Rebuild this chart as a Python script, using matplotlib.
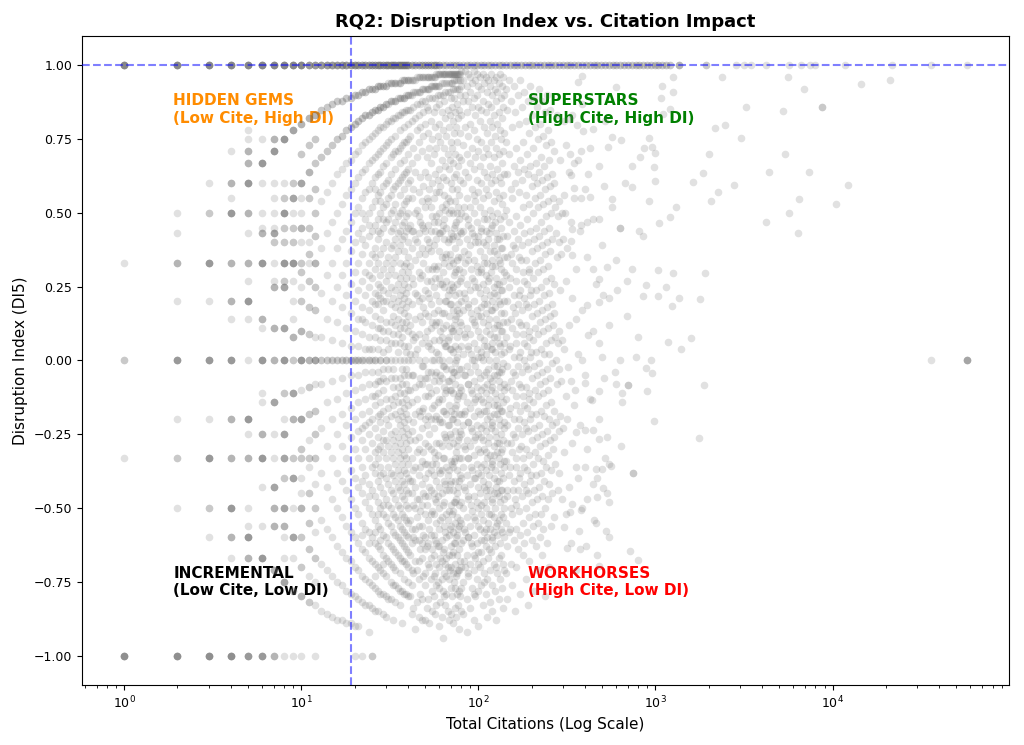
import numpy as np
import matplotlib.pyplot as plt

# papers with DI = 1 (top row): citations and number of papers on that spot
top_cites = [1, 2, 3, 4, 5, 6, 7, 8, 9, 10, 11, 12, 13, 14, 15, 16, 17, 18, 19, 20,
             21, 22, 23, 24, 25, 26, 27, 28, 29, 30, 31, 32, 33, 34, 35, 36, 37, 38, 39, 40,
             42, 44, 46, 48, 50, 52, 54, 56, 58, 60, 63, 66, 69, 72, 75, 78, 82, 86, 90, 94,
             98, 103, 108, 113, 118, 124, 130, 136, 143, 150, 158, 166, 174, 183, 192, 202,
             212, 223, 234, 246, 258, 271, 285, 300, 315, 331, 348, 366, 385, 405, 425, 447,
             470, 494, 519, 545, 573, 602, 633, 665, 699, 735, 772, 811, 852, 896, 941, 989,
             1040, 1090, 1150, 1210, 1350, 1920, 2830, 3170, 3450, 4200, 5640, 6600, 7500,
             8000, 11800, 21500, 35700, 57000]
top_counts = [7, 7, 7, 7, 7, 7, 7, 7, 7, 7, 5, 5, 5, 5, 5, 5, 5, 5, 5, 5,
              4, 4, 4, 4, 4, 4, 4, 4, 4, 4, 4, 4, 4, 4, 4, 4, 4, 4, 4, 4,
              3, 3, 3, 3, 3, 3, 3, 3, 3, 3, 2, 2, 2, 2, 2, 2, 2, 2, 2, 2,
              2, 2, 2, 2, 2, 2, 2, 2, 2, 2, 2, 2, 2, 2, 2, 2,
              2, 2, 2, 2, 2, 2, 2, 2, 2, 2, 2, 2, 2, 2, 2, 2,
              2, 2, 2, 2, 2, 2, 2, 2, 2, 2, 2, 2, 2, 2, 2, 2,
              2, 2, 2, 2, 3, 2, 1, 1, 1, 1, 1, 1, 1,
              1, 1, 1, 1, 1]

# papers with DI = -1
bottom_cites = [1, 2, 3, 4, 5, 6, 7, 8, 9, 10, 12, 20, 22, 25]
bottom_counts = [6, 6, 6, 6, 5, 5, 3, 1, 1, 1, 1, 1, 1, 2]

# DI of the papers in each citation column (one entry per paper)
columns = {
    1: [0.33, 0, 0, -0.33],
    2: [0.5, 0.43, 0.33, 0.33, 0.33, 0.2, 0, 0, 0, 0, 0, -0.2, -0.33, -0.33, -0.5],
    3: [0.6, 0.5, 0.5, 0.33, 0.33, 0.33, 0.33, 0.33, 0.2, 0, 0, 0, 0, 0, -0.2, -0.33, -0.33,
        -0.33, -0.33, -0.33, -0.5, -0.5, -0.6],
    4: [0.71, 0.6, 0.6, 0.6, 0.55, 0.5, 0.5, 0.5, 0.5, 0.5, 0.33, 0.33, 0.33, 0.2, 0.2, 0.2,
        0.14, 0, 0, 0, 0, 0, -0.2, -0.2, -0.2, -0.33, -0.33, -0.33, -0.5, -0.5, -0.5, -0.5,
        -0.5, -0.6, -0.6, -0.6, -0.67],
    5: [0.78, 0.75, 0.71, 0.71, 0.71, 0.67, 0.67, 0.67, 0.6, 0.6, 0.6, 0.6, 0.6, 0.5, 0.5,
        0.5, 0.43, 0.33, 0.33, 0.33, 0.27, 0.2, 0.2, 0.2, 0.2, 0.2, 0.14, 0, -0.2, -0.2, -0.2,
        -0.2, -0.2, -0.25, -0.33, -0.33, -0.33, -0.5, -0.56, -0.6, -0.6, -0.6, -0.6, -0.6,
        -0.67, -0.67, -0.67],
    6: [0.75, 0.67, 0.67, 0.67, 0.67, 0.67, 0.6, 0.5, 0.45, 0.43, 0.43, 0.43, 0.33, 0.33,
        0.33, 0.33, 0.33, 0.14, 0.14, 0.14, 0.11, 0, 0, 0, 0, 0, -0.11, -0.14, -0.25, -0.25,
        -0.25, -0.33, -0.33, -0.33, -0.33, -0.33, -0.43, -0.56, -0.67, -0.67, -0.67, -0.67,
        -0.67],
    7: [0.75, 0.75, 0.75, 0.71, 0.71, 0.71, 0.71, 0.71, 0.6, 0.55, 0.5, 0.45, 0.43, 0.43,
        0.43, 0.43, 0.4, 0.4, 0.33, 0.27, 0.25, 0.25, 0.25, 0.11, 0.11, 0.11, 0, 0, 0, -0.14,
        -0.14, -0.14, -0.14, -0.25, -0.33, -0.43, -0.43, -0.43, -0.43, -0.5, -0.5, -0.5,
        -0.56, -0.56, -0.56, -0.71, -0.71, -0.71],
    8: [0.75, 0.75, 0.75, 0.75, 0.75, 0.6, 0.55, 0.55, 0.5, 0.5, 0.5, 0.5, 0.5, 0.45, 0.45,
        0.4, 0.4, 0.33, 0.33, 0.33, 0.33, 0.33, 0.27, 0.27, 0.25, 0.25, 0.25, 0.25, 0.11,
        0.11, 0.11, 0.11, 0, 0, 0, 0, 0, -0.11, -0.11, -0.2, -0.25, -0.25, -0.25, -0.25,
        -0.33, -0.33, -0.33, -0.33, -0.4, -0.4, -0.5, -0.5, -0.5, -0.5, -0.56, -0.56, -0.56,
        -0.6, -0.67, -0.75, -0.75, -0.75, -0.75],
    9: [0.78, 0.78, 0.78, 0.78, 0.6, 0.6, 0.55, 0.55, 0.55, 0.55, 0.5, 0.45, 0.45, 0.4, 0.4,
        0.33, 0.33, 0.33, 0.33, 0.33, 0.27, 0.2, 0.14, 0.08, 0.08, 0.08, 0, 0, -0.11, -0.11,
        -0.11, -0.11, -0.2, -0.2, -0.2, -0.33, -0.33, -0.4, -0.4, -0.4, -0.4, -0.5, -0.6,
        -0.6, -0.6, -0.6, -0.67, -0.78, -0.78],
    10: [0.8, 0.8, 0.8, 0.7, 0.7, 0.6, 0.6, 0.6, 0.6, 0.55, 0.5, 0.45, 0.45, 0.45, 0.4, 0.33,
         0.33, 0.3, 0.3, 0.25, 0.2, 0.2, 0.1, 0.1, 0.1, 0, 0, 0, 0, 0, -0.1, -0.2, -0.2, -0.2,
         -0.2, -0.3, -0.3, -0.33, -0.33, -0.4, -0.45, -0.5, -0.5, -0.5, -0.6, -0.6, -0.7,
         -0.7, -0.8, -0.8, -0.8],
    11: [0.82, 0.82, 0.82, 0.73, 0.73, 0.64, 0.64, 0.64, 0.55, 0.55, 0.45, 0.45, 0.4, 0.36,
         0.36, 0.33, 0.27, 0.27, 0.18, 0.18, 0.09, 0.09, 0, 0, 0, -0.09, -0.09, -0.18, -0.18,
         -0.27, -0.33, -0.33, -0.36, -0.45, -0.45, -0.55, -0.55, -0.64, -0.64, -0.73, -0.82,
         -0.82],
    12: [0.83, 0.83, 0.83, 0.75, 0.75, 0.67, 0.67, 0.58, 0.58, 0.5, 0.5, 0.42, 0.42, 0.33,
         0.33, 0.33, 0.25, 0.25, 0.17, 0.17, 0.08, 0, 0, 0, 0, -0.08, -0.17, -0.17, -0.25,
         -0.25, -0.33, -0.33, -0.42, -0.5, -0.5, -0.58, -0.67, -0.67, -0.75, -0.83],
    13: [0.85, 0.85, 0.69, 0.69, 0.54, 0.38, 0.23, 0.08, 0, 0, -0.08, -0.23, -0.38, -0.54,
         -0.69, -0.85],
    14: [0.86, 0.86, 0.71, 0.71, 0.57, 0.43, 0.29, 0.14, 0, 0, -0.14, -0.29, -0.43, -0.57,
         -0.71, -0.86],
    15: [0.87, 0.87, 0.73, 0.73, 0.6, 0.47, 0.33, 0.2, 0.07, 0, 0, -0.07, -0.2, -0.33, -0.47,
         -0.6, -0.73, -0.87],
    16: [0.88, 0.88, 0.75, 0.75, 0.63, 0.5, 0.38, 0.25, 0.13, 0, 0, -0.13, -0.25, -0.38,
         -0.5, -0.63, -0.75, -0.88],
    17: [0.88, 0.88, 0.76, 0.76, 0.65, 0.53, 0.41, 0.29, 0.18, 0.06, 0, 0, -0.06, -0.18,
         -0.29, -0.41, -0.53, -0.65, -0.76, -0.88],
    18: [0.89, 0.89, 0.78, 0.78, 0.67, 0.56, 0.44, 0.33, 0.22, 0.11, 0, 0, -0.11, -0.22,
         -0.33, -0.44, -0.56, -0.67, -0.78, -0.89],
    19: [0.89, 0.89, 0.79, 0.79, 0.68, 0.58, 0.47, 0.37, 0.26, 0.16, 0.05, 0, 0, -0.05,
         -0.16, -0.26, -0.37, -0.47, -0.58, -0.68, -0.79, -0.89],
    20: [0.9, 0.9, 0.8, 0.8, 0.7, 0.6, 0.5, 0.4, 0.3, 0.2, 0.1, 0, 0, -0.1, -0.2, -0.3, -0.4,
         -0.5, -0.6, -0.7, -0.8, -0.9],
    21: [0.9, 0.9, 0.81, 0.81, 0.71, 0.62, 0.52, 0.43, 0.33, 0.24, 0.14, 0.05, 0, 0, -0.05,
         -0.14, -0.24, -0.33, -0.43, -0.52, -0.62, -0.71, -0.81, -0.9],
    22: [0.91, 0.91, 0.82, 0.82, 0.73, 0.64, 0.55, 0.45, 0.36, 0.27, 0.18, 0.09, 0, 0,
         -0.09, -0.18, -0.27, -0.36, -0.45, -0.55, -0.64, -0.73, -0.82],
    23: [0.91, 0.91, 0.83, 0.83, 0.74, 0.65, 0.57, 0.48, 0.39, 0.3, 0.22, 0.13, 0.04, 0,
         -0.04, -0.13, -0.22, -0.3, -0.39, -0.48, -0.57, -0.65, -0.74, -0.83],
    24: [0.92, 0.92, 0.83, 0.83, 0.75, 0.67, 0.58, 0.5, 0.42, 0.33, 0.25, 0.17, 0.08, 0, 0,
         -0.08, -0.17, -0.25, -0.33, -0.42, -0.5, -0.58, -0.67, -0.75, -0.83, -0.92],
    25: [0.92, 0.92, 0.84, 0.84, 0.76, 0.68, 0.6, 0.52, 0.44, 0.36, 0.28, 0.2, 0.12, 0.04, 0,
         -0.04, -0.12, -0.2, -0.28, -0.36, -0.44, -0.52, -0.6, -0.68, -0.76, -0.84],
    26: [0.92, 0.92, 0.85, 0.85, 0.77, 0.69, 0.62, 0.54, 0.46, 0.38, 0.31, 0.23, 0.15, 0.08,
         0, 0, -0.08, -0.15, -0.23, -0.31, -0.38, -0.46, -0.54, -0.62, -0.69, -0.77, -0.85],
    27: [0.93, 0.93, 0.85, 0.85, 0.78, 0.7, 0.63, 0.56, 0.48, 0.41, 0.33, 0.26, 0.19, 0.11,
         0.04, -0.04, -0.11, -0.19, -0.26, -0.33, -0.41, -0.48, -0.56, -0.63, -0.7, -0.78,
         -0.85],
    28: [0.93, 0.93, 0.86, 0.86, 0.79, 0.71, 0.64, 0.57, 0.5, 0.43, 0.36, 0.29, 0.21, 0.14,
         0.07, 0, 0, -0.07, -0.14, -0.21, -0.29, -0.36, -0.43, -0.5, -0.57, -0.64, -0.71,
         -0.79],
    29: [0.93, 0.93, 0.86, 0.86, 0.79, 0.72, 0.66, 0.59, 0.52, 0.45, 0.38, 0.31, 0.24, 0.17,
         0.1, 0.03, -0.03, -0.1, -0.17, -0.24, -0.31, -0.38, -0.45, -0.52, -0.59, -0.66,
         -0.72, -0.79, -0.86],
    30: [0.93, 0.93, 0.87, 0.87, 0.8, 0.73, 0.67, 0.6, 0.53, 0.47, 0.4, 0.33, 0.27, 0.2,
         0.13, 0.07, 0, 0, -0.07, -0.13, -0.2, -0.27, -0.33, -0.4, -0.47, -0.53, -0.6, -0.67,
         -0.73, -0.8, -0.87],
    31: [0.94, 0.87, 0.81, 0.74, 0.61, 0.48, 0.35, 0.23, 0.1, -0.03, -0.16, -0.29, -0.42,
         -0.55, -0.68, -0.81],
    32: [0.94, 0.94, 0.88, 0.88, 0.81, 0.75, 0.69, 0.63, 0.56, 0.5, 0.44, 0.38, 0.31, 0.25,
         0.19, 0.13, 0.06, 0, -0.06, -0.13, -0.19, -0.25, -0.31, -0.38, -0.44, -0.5, -0.56,
         -0.63, -0.69, -0.75, -0.81],
    33: [0.94, 0.88, 0.82, 0.7, 0.58, 0.45, 0.33, 0.21, 0.09, -0.03, -0.15, -0.27, -0.39,
         -0.52, -0.64, -0.76, -0.88],
    34: [0.94, 0.94, 0.88, 0.88, 0.82, 0.76, 0.71, 0.65, 0.59, 0.53, 0.47, 0.41, 0.35, 0.29,
         0.24, 0.18, 0.12, 0.06, 0, -0.06, -0.12, -0.18, -0.24, -0.29, -0.35, -0.41, -0.47,
         -0.53, -0.59, -0.65, -0.71, -0.76, -0.82],
    35: [0.94, 0.89, 0.83, 0.71, 0.6, 0.49, 0.37, 0.26, 0.14, 0.03, -0.09, -0.2, -0.31,
         -0.43, -0.54, -0.66, -0.77],
    36: [0.94, 0.94, 0.89, 0.89, 0.83, 0.78, 0.72, 0.67, 0.61, 0.56, 0.5, 0.44, 0.39, 0.33,
         0.28, 0.22, 0.17, 0.11, 0.06, 0, -0.06, -0.11, -0.17, -0.22, -0.28, -0.33, -0.39,
         -0.44, -0.5, -0.56, -0.61, -0.67, -0.72, -0.78, -0.83],
    37: [0.95, 0.89, 0.84, 0.73, 0.62, 0.51, 0.41, 0.3, 0.19, 0.08, -0.03, -0.14, -0.24,
         -0.35, -0.46, -0.57, -0.68, -0.78, -0.89],
    38: [0.95, 0.95, 0.89, 0.89, 0.84, 0.79, 0.74, 0.68, 0.63, 0.58, 0.53, 0.47, 0.42, 0.37,
         0.32, 0.26, 0.21, 0.16, 0.11, 0.05, 0, -0.05, -0.11, -0.16, -0.21, -0.26, -0.32,
         -0.37, -0.42, -0.47, -0.53, -0.58, -0.63, -0.68, -0.74, -0.79],
    39: [0.95, 0.9, 0.85, 0.74, 0.64, 0.54, 0.44, 0.33, 0.23, 0.13, 0.03, -0.08, -0.18,
         -0.28, -0.38, -0.49, -0.59, -0.69, -0.79],
    40: [0.95, 0.95, 0.9, 0.9, 0.85, 0.8, 0.75, 0.7, 0.65, 0.6, 0.55, 0.5, 0.45, 0.4, 0.35,
         0.3, 0.25, 0.2, 0.15, 0.1, 0.05, 0, -0.05, -0.1, -0.15, -0.2, -0.25, -0.3, -0.35,
         -0.4, -0.45, -0.5, -0.55, -0.6, -0.65, -0.7, -0.75, -0.8],
    41: [0.95, 0.9, 0.85, 0.76, 0.61, 0.46, 0.32, 0.12, 0.02, -0.1, -0.27, -0.41, -0.54, -0.66, -0.8],
    42: [0.95, 0.9, 0.81, 0.67, 0.55, 0.38, 0.19, 0, -0.14, -0.33, -0.45, -0.62, -0.76, -0.86],
    43: [0.95, 0.91, 0.86, 0.72, 0.58, 0.44, 0.26, 0.07, -0.05, -0.21, -0.37, -0.49, -0.6, -0.72, -0.84],
    44: [0.95, 0.91, 0.82, 0.64, 0.5, 0.34, 0.14, 0.02, -0.09, -0.27, -0.43, -0.57, -0.68, -0.91],
    45: [0.96, 0.91, 0.87, 0.78, 0.69, 0.51, 0.4, 0.22, 0.04, -0.13, -0.31, -0.47, -0.53, -0.71, -0.82],
    46: [0.96, 0.91, 0.83, 0.74, 0.57, 0.43, 0.3, 0.09, 0, -0.17, -0.26, -0.39, -0.61, -0.74, -0.87],
    47: [0.96, 0.91, 0.87, 0.79, 0.62, 0.47, 0.28, 0.15, -0.06, -0.19, -0.36, -0.51, -0.64, -0.79],
    48: [0.96, 0.92, 0.88, 0.71, 0.54, 0.38, 0.21, 0.06, -0.08, -0.23, -0.42, -0.56, -0.67, -0.81, -0.88],
    49: [0.96, 0.92, 0.84, 0.76, 0.59, 0.45, 0.33, 0.18, -0.02, -0.16, -0.31, -0.45, -0.59, -0.73],
    50: [0.96, 0.92, 0.88, 0.8, 0.64, 0.52, 0.36, 0.24, 0.08, 0, -0.12, -0.28, -0.4, -0.52, -0.64, -0.76, -0.88],
    51: [0.96, 0.92, 0.86, 0.69, 0.55, 0.41, 0.27, 0.1, -0.06, -0.22, -0.35, -0.49, -0.63, -0.84],
    52: [0.96, 0.92, 0.85, 0.77, 0.62, 0.46, 0.31, 0.15, -0.04, -0.19, -0.38, -0.54, -0.69, -0.81],
    53: [0.96, 0.92, 0.89, 0.72, 0.58, 0.4, 0.21, 0.06, -0.09, -0.25, -0.43, -0.57, -0.7, -0.89],
    54: [0.96, 0.93, 0.81, 0.67, 0.52, 0.37, 0.19, 0.04, -0.11, -0.3, -0.44, -0.59, -0.74],
    55: [0.96, 0.93, 0.89, 0.75, 0.6, 0.49, 0.31, 0.13, 0, -0.16, -0.35, -0.51, -0.64, -0.78, -0.85],
    56: [0.96, 0.93, 0.84, 0.7, 0.55, 0.39, 0.25, 0.07, -0.07, -0.23, -0.39, -0.52, -0.66, -0.8],
    57: [0.96, 0.93, 0.89, 0.79, 0.63, 0.44, 0.28, 0.12, -0.05, -0.2, -0.33, -0.47, -0.61, -0.72, -0.86],
    58: [0.97, 0.93, 0.86, 0.72, 0.57, 0.41, 0.22, 0.03, -0.1, -0.28, -0.41, -0.55, -0.69, -0.83],
    59: [0.97, 0.93, 0.9, 0.76, 0.61, 0.47, 0.32, 0.17, 0.02, -0.14, -0.32, -0.46, -0.63, -0.75],
    60: [0.97, 0.93, 0.87, 0.8, 0.65, 0.5, 0.37, 0.2, 0.07, -0.07, -0.2, -0.37, -0.5, -0.63, -0.77, -0.9],
    61: [0.97, 0.9, 0.74, 0.59, 0.43, 0.26, 0.1, -0.05, -0.21, -0.38, -0.54, -0.67, -0.82],
    62: [0.97, 0.94, 0.84, 0.68, 0.52, 0.35, 0.16, 0, -0.13, -0.29, -0.45, -0.61, -0.74, -0.87],
    63: [0.97, 0.9, 0.78, 0.62, 0.46, 0.3, 0.11, -0.02, -0.17, -0.33, -0.49, -0.65, -0.78, -0.94],
    64: [0.97, 0.94, 0.88, 0.72, 0.56, 0.41, 0.25, 0.06, -0.09, -0.25, -0.41, -0.56, -0.72],
    65: [0.97, 0.91, 0.82, 0.66, 0.51, 0.35, 0.2, 0.05, -0.11, -0.26, -0.42, -0.58, -0.69, -0.83],
    66: [0.97, 0.94, 0.76, 0.61, 0.45, 0.27, 0.12, -0.03, -0.18, -0.36, -0.52, -0.67, -0.79],
    67: [0.97, 0.91, 0.85, 0.7, 0.55, 0.4, 0.22, 0.07, -0.07, -0.22, -0.39, -0.54, -0.7, -0.85],
    68: [0.97, 0.94, 0.79, 0.65, 0.5, 0.32, 0.15, 0, -0.15, -0.29, -0.44, -0.59, -0.74, -0.88],
    69: [0.97, 0.91, 0.83, 0.68, 0.54, 0.36, 0.19, 0.04, -0.1, -0.25, -0.42, -0.57, -0.71],
    70: [0.97, 0.94, 0.89, 0.74, 0.6, 0.43, 0.26, 0.11, -0.03, -0.17, -0.34, -0.49, -0.63, -0.77, -0.86],
    71: [0.97, 0.94, 0.86, 0.72, 0.58, 0.41, 0.24, 0.1, -0.06, -0.2, -0.35, -0.52, -0.66, -0.8],
    72: [0.97, 0.92, 0.81, 0.67, 0.5, 0.33, 0.17, 0.03, -0.11, -0.28, -0.44, -0.58, -0.72, -0.89],
    73: [0.97, 0.95, 0.89, 0.77, 0.62, 0.45, 0.29, 0.12, -0.04, -0.18, -0.34, -0.48, -0.62, -0.75],
    74: [0.97, 0.92, 0.84, 0.7, 0.54, 0.38, 0.22, 0.05, -0.08, -0.24, -0.41, -0.55, -0.69, -0.84],
    75: [0.97, 0.95, 0.79, 0.63, 0.47, 0.31, 0.15, 0, -0.15, -0.31, -0.47, -0.6, -0.73, -0.87],
    76: [0.97, 0.92, 0.87, 0.74, 0.58, 0.42, 0.26, 0.08, -0.05, -0.21, -0.37, -0.53, -0.66, -0.79],
    77: [0.97, 0.95, 0.82, 0.66, 0.52, 0.35, 0.19, 0.04, -0.12, -0.27, -0.43, -0.57, -0.71, -0.83],
    78: [0.97, 0.92, 0.85, 0.69, 0.56, 0.4, 0.23, 0.1, -0.03, -0.18, -0.33, -0.49, -0.64, -0.78, -0.91],
    79: [0.97, 0.95, 0.9, 0.77, 0.61, 0.44, 0.27, 0.13, -0.09, -0.24, -0.39, -0.54, -0.68, -0.8],
    80: [0.98, 0.93, 0.83, 0.68, 0.5, 0.35, 0.2, 0.05, -0.1, -0.25, -0.4, -0.55, -0.7, -0.85],
    82: [0.95, 0.88, 0.73, 0.6, 0.44, 0.3, 0.17, 0.02, -0.12, -0.22, -0.36, -0.5, -0.61, -0.75, -0.86],
    84: [0.98, 0.9, 0.79, 0.64, 0.49, 0.33, 0.21, 0.08, -0.05, -0.17, -0.3, -0.44, -0.58, -0.7],
    86: [0.93, 0.84, 0.7, 0.55, 0.41, 0.26, 0.11, -0.02, -0.14, -0.27, -0.39, -0.53, -0.66, -0.81, -0.92],
    88: [0.97, 0.88, 0.76, 0.62, 0.46, 0.36, 0.19, 0.05, -0.08, -0.21, -0.33, -0.47, -0.6, -0.72],
    90: [0.96, 0.91, 0.8, 0.67, 0.52, 0.39, 0.24, 0.09, -0.04, -0.16, -0.29, -0.42, -0.56, -0.69, -0.84],
    92: [0.94, 0.86, 0.72, 0.58, 0.43, 0.28, 0.14, 0, -0.11, -0.24, -0.37, -0.51, -0.63, -0.77],
    94: [0.98, 0.89, 0.78, 0.65, 0.5, 0.34, 0.2, 0.06, -0.07, -0.19, -0.32, -0.46, -0.59, -0.71, -0.88],
    96: [0.95, 0.83, 0.69, 0.54, 0.4, 0.25, 0.12, -0.02, -0.13, -0.26, -0.4, -0.54, -0.67, -0.8],
    98: [0.97, 0.9, 0.75, 0.61, 0.47, 0.32, 0.17, 0.04, -0.09, -0.22, -0.35, -0.48, -0.62, -0.74],
    100: [0.93, 0.86, 0.71, 0.57, 0.42, 0.3, 0.15, 0.01, -0.12, -0.25, -0.38, -0.5, -0.65, -0.78, -0.9],
    102: [0.96, 0.81, 0.66, 0.52, 0.37, 0.23, 0.08, -0.06, -0.18, -0.31, -0.45, -0.57, -0.7],
    104: [0.92, 0.85, 0.74, 0.6, 0.45, 0.31, 0.18, 0.03, -0.1, -0.23, -0.36, -0.49, -0.61, -0.76],
    106: [0.97, 0.88, 0.69, 0.55, 0.4, 0.26, 0.13, 0, -0.14, -0.27, -0.41, -0.54, -0.68, -0.83],
    108: [0.94, 0.79, 0.64, 0.5, 0.35, 0.21, 0.07, -0.05, -0.17, -0.3, -0.43, -0.58, -0.72],
    110: [0.96, 0.84, 0.72, 0.58, 0.44, 0.29, 0.16, 0.02, -0.11, -0.24, -0.37, -0.5, -0.63, -0.79],
    112: [0.91, 0.77, 0.62, 0.48, 0.33, 0.19, 0.05, -0.08, -0.2, -0.33, -0.46, -0.6, -0.74, -0.87],
    114: [0.95, 0.87, 0.7, 0.56, 0.41, 0.27, 0.12, -0.03, -0.15, -0.28, -0.42, -0.55, -0.67],
    116: [0.93, 0.81, 0.66, 0.51, 0.37, 0.22, 0.09, -0.06, -0.19, -0.32, -0.44, -0.57, -0.71, -0.82],
    118: [0.97, 0.86, 0.74, 0.6, 0.45, 0.3, 0.17, 0.04, -0.1, -0.23, -0.36, -0.52, -0.65],
    120: [0.9, 0.79, 0.63, 0.49, 0.34, 0.2, 0.06, -0.07, -0.21, -0.34, -0.47, -0.61, -0.76, -0.85],
    122: [0.95, 0.83, 0.69, 0.54, 0.39, 0.25, 0.11, -0.02, -0.15, -0.29, -0.4, -0.53, -0.69],
    124: [0.92, 0.76, 0.61, 0.47, 0.32, 0.18, 0.03, -0.11, -0.24, -0.37, -0.5, -0.63, -0.78],
    126: [0.96, 0.88, 0.72, 0.57, 0.43, 0.28, 0.14, 0, -0.13, -0.26, -0.43, -0.56, -0.7, -0.88],
    128: [0.91, 0.8, 0.65, 0.5, 0.36, 0.22, 0.08, -0.05, -0.18, -0.31, -0.45, -0.59, -0.72],
    130: [0.94, 0.84, 0.7, 0.55, 0.41, 0.26, 0.12, -0.04, -0.16, -0.28, -0.41, -0.54, -0.67, -0.81],
    132: [0.97, 0.78, 0.62, 0.48, 0.33, 0.19, 0.05, -0.09, -0.22, -0.35, -0.48, -0.62, -0.74],
    134: [0.89, 0.75, 0.6, 0.45, 0.31, 0.16, 0.02, -0.12, -0.25, -0.38, -0.52, -0.66],
    136: [0.93, 0.82, 0.67, 0.53, 0.38, 0.24, 0.1, -0.03, -0.17, -0.3, -0.44, -0.58, -0.77],
    138: [0.96, 0.86, 0.71, 0.56, 0.42, 0.27, 0.13, -0.01, -0.14, -0.27, -0.4, -0.53, -0.69, -0.84],
    140: [0.9, 0.77, 0.63, 0.49, 0.35, 0.2, 0.06, -0.08, -0.21, -0.34, -0.47, -0.6, -0.71],
    143: [0.92, 0.74, 0.51, 0.29, 0.08, -0.13, -0.34, -0.55, -0.72],
    146: [0.85, 0.63, 0.42, 0.2, -0.02, -0.22, -0.44, -0.63, -0.81],
    149: [0.95, 0.7, 0.47, 0.25, 0.04, -0.18, -0.39, -0.58],
    152: [0.88, 0.58, 0.36, 0.14, -0.07, -0.28, -0.5, -0.69],
    155: [0.79, 0.55, 0.33, 0.11, -0.1, -0.31, -0.52, -0.76],
    158: [0.93, 0.66, 0.44, 0.22, 0.01, -0.2, -0.41, -0.61],
    161: [0.84, 0.6, 0.38, 0.16, -0.05, -0.26, -0.47, -0.85],
    164: [0.72, 0.49, 0.27, 0.06, -0.15, -0.36, -0.57, -0.7],
    167: [0.9, 0.64, 0.41, 0.19, -0.02, -0.23, -0.44, -0.64],
    170: [0.8, 0.57, 0.35, 0.13, -0.08, -0.3, -0.51],
    173: [0.95, 0.68, 0.46, 0.24, 0.03, -0.17, -0.38, -0.59, -0.79],
    176: [0.86, 0.61, 0.39, 0.17, -0.04, -0.25, -0.46],
    179: [0.74, 0.52, 0.3, 0.09, -0.12, -0.33, -0.55, -0.66],
    182: [0.91, 0.65, 0.43, 0.21, 0, -0.21, -0.42, -0.62],
    185: [0.81, 0.56, 0.34, 0.12, -0.09, -0.3, -0.5, -0.74],
    188: [0.7, 0.48, 0.26, 0.05, -0.16, -0.37, -0.58],
    191: [0.88, 0.63, 0.4, 0.18, -0.03, -0.24, -0.45, -0.83],
    194: [0.77, 0.53, 0.31, 0.1, -0.11, -0.32, -0.53, -0.68],
    197: [0.93, 0.66, 0.44, 0.22, 0.01, -0.2, -0.41],
    200: [0.83, 0.59, 0.37, 0.15, -0.06, -0.27, -0.48, -0.61],
    203: [0.72, 0.5, 0.28, 0.07, -0.14, -0.35, -0.56],
    206: [0.89, 0.62, 0.41, 0.19, -0.02, -0.23, -0.44, -0.78],
    209: [0.79, 0.55, 0.33, 0.11, -0.1, -0.31, -0.52],
    212: [0.67, 0.45, 0.24, 0.03, -0.18, -0.39, -0.63],
    215: [0.86, 0.6, 0.38, 0.16, -0.05, -0.26, -0.47],
    218: [0.75, 0.52, 0.3, 0.09, -0.12, -0.33, -0.55, -0.71],
    221: [0.92, 0.64, 0.42, 0.2, -0.01, -0.22, -0.43],
    224: [0.8, 0.56, 0.34, 0.13, -0.08, -0.29, -0.6],
    227: [0.69, 0.47, 0.25, 0.04, -0.17, -0.38, -0.52],
    230: [0.88, 0.61, 0.39, 0.17, -0.04, -0.25, -0.46, -0.66],
    233: [0.76, 0.53, 0.31, 0.1, -0.11, -0.34, -0.57],
    236: [0.66, 0.44, 0.22, 0.02, -0.19, -0.41],
    239: [0.84, 0.58, 0.36, 0.14, -0.07, -0.28, -0.5, -0.8],
    242: [0.73, 0.49, 0.27, 0.06, -0.15, -0.36],
    245: [0.9, 0.62, 0.4, 0.18, -0.03, -0.24, -0.62],
    248: [0.78, 0.54, 0.32, 0.11, -0.1, -0.32, -0.47],
    251: [0.68, 0.45, 0.23, 0.02, -0.2, -0.42, -0.7],
    254: [0.85, 0.59, 0.37, 0.15, -0.06, -0.27],
    257: [0.74, 0.5, 0.28, 0.07, -0.14, -0.37, -0.56],
    260: [0.63, 0.41, 0.19, -0.01, -0.22, -0.45],
    263: [0.55, 0.12, -0.3],
    266: [0.71, 0.26, -0.17],
    269: [0.6, 0.16, -0.26, -0.53],
    272: [0.52, 0.08, -0.35],
    275: [0.43, 0, -0.21],
    278: [0.83, 0.35, -0.08],
    281: [0.49, 0.06, -0.44],
    284: [0.4, -0.03, -0.24],
    287: [0.54, 0.1, -0.38],
    290: [0.68, 0.24, -0.19],
    293: [0.36, -0.07],
    296: [0.5, 0.07, -0.47],
    299: [0.41, -0.23],
    305: [0.56, 0.04, -0.31],
    312: [0.73, 0.27, -0.12, -0.52],
    318: [0.38, -0.2],
    325: [0.64, 0.12, -0.43],
    332: [0.47, -0.07, -0.62],
    340: [0.83, 0.21, -0.28],
    348: [0.55, -0.15],
    357: [0.31, -0.36, -0.71],
    366: [0.68, 0.02],
    376: [0.44, -0.22],
    387: [0.87, 0.17, -0.5],
    398: [0.58, -0.05],
    412: [0.35, -0.3],
    427: [0.72, -0.13],
    443: [0.48, 0.1, -0.42],
    460: [0.26, -0.55],
    478: [0.66, -0.2],
    497: [0.39, 0.01],
    520: [0.81, -0.33],
    545: [0.12, -0.6],
    572: [0.52],
    600: [0.34, -0.08],
    640: [-0.29],
    690: [0.15],
}

# more papers in the dense core of the cloud
core_extra = {
    22: [0.5, 0.41, 0.14, -0.23, -0.41, -0.59],
    24: [0.46, 0.29, 0.04, -0.21, -0.46, -0.62],
    26: [0.58, 0.35, 0.19, -0.12, -0.35, -0.58, -0.73],
    27: [0.44, 0.22, -0.07, -0.3, -0.52],
    28: [0.54, 0.25, 0.11, -0.18, -0.39, -0.61],
    29: [0.48, 0.2, -0.06, -0.27, -0.49, -0.69],
    31: [0.55, 0.29, 0.04, -0.22, -0.36, -0.49, -0.62],
    33: [0.51, 0.39, 0.15, -0.09, -0.33, -0.45, -0.58, -0.7],
    35: [0.43, 0.2, 0.09, -0.14, -0.26, -0.37, -0.49, -0.6],
    37: [0.46, 0.24, 0.13, -0.08, -0.19, -0.3, -0.41, -0.52, -0.62],
    39: [0.49, 0.28, 0.18, -0.03, -0.13, -0.23, -0.33, -0.44, -0.54, -0.64],
    42: [0.44, 0.28, 0.09, -0.05, -0.24, -0.41, -0.57, -0.71],
    44: [0.41, 0.23, 0.08, -0.18, -0.36, -0.5, -0.61],
    46: [0.49, 0.36, 0.2, -0.08, -0.3, -0.47, -0.56, -0.68],
    48: [0.46, 0.29, 0.13, -0.02, -0.17, -0.34, -0.49, -0.62],
    50: [0.44, 0.16, -0.06, -0.2, -0.35, -0.46, -0.6, -0.72],
    52: [0.54, 0.38, 0.23, 0.05, -0.12, -0.29, -0.46, -0.62],
    54: [0.44, 0.27, 0.11, -0.04, -0.2, -0.37, -0.52, -0.67],
    56: [0.47, 0.32, 0.16, 0, -0.15, -0.31, -0.45, -0.59, -0.73],
    58: [0.49, 0.31, 0.13, -0.04, -0.19, -0.35, -0.48, -0.62, -0.76],
    60: [0.57, 0.43, 0.28, 0.13, 0, -0.13, -0.28, -0.43, -0.57, -0.7],
    62: [0.44, 0.26, 0.08, -0.06, -0.21, -0.37, -0.53, -0.68],
    64: [0.48, 0.33, 0.16, -0.02, -0.17, -0.33, -0.48, -0.64, -0.8],
    66: [0.53, 0.36, 0.2, 0.05, -0.1, -0.27, -0.44, -0.6, -0.73],
    68: [0.41, 0.24, 0.08, -0.07, -0.22, -0.37, -0.51, -0.66],
    70: [0.51, 0.34, 0.19, 0.04, -0.1, -0.26, -0.41, -0.56, -0.7],
    72: [0.42, 0.25, 0.1, -0.04, -0.2, -0.36, -0.51, -0.65],
    74: [0.46, 0.3, 0.14, -0.01, -0.16, -0.33, -0.48, -0.62, -0.77],
    76: [0.5, 0.34, 0.17, 0.01, -0.13, -0.29, -0.45, -0.59, -0.72],
    78: [0.48, 0.31, 0.16, -0.11, -0.26, -0.41, -0.56, -0.71],
    80: [0.43, 0.28, 0.12, -0.03, -0.18, -0.33, -0.48, -0.62, -0.77],
    83: [0.52, 0.37, 0.23, 0.09, -0.05, -0.18, -0.29, -0.43, -0.57, -0.68],
    87: [0.48, 0.34, 0.18, 0.04, -0.08, -0.21, -0.33, -0.46, -0.6, -0.73],
    91: [0.45, 0.31, 0.16, 0.02, -0.1, -0.23, -0.36, -0.49, -0.62],
    95: [0.56, 0.42, 0.27, 0.13, 0, -0.14, -0.27, -0.4, -0.53, -0.66, -0.79],
    99: [0.4, 0.25, 0.1, -0.04, -0.17, -0.3, -0.43, -0.56, -0.69],
    103: [0.44, 0.3, 0.15, 0.01, -0.13, -0.26, -0.39, -0.52, -0.65],
    107: [0.48, 0.33, 0.19, 0.05, -0.09, -0.22, -0.35, -0.48, -0.61, -0.75],
    111: [0.39, 0.24, 0.1, -0.04, -0.17, -0.31, -0.44, -0.57],
    115: [0.43, 0.28, 0.14, 0, -0.13, -0.26, -0.39, -0.52, -0.64],
    119: [0.46, 0.32, 0.17, 0.04, -0.09, -0.22, -0.35, -0.48, -0.6],
    123: [0.37, 0.23, 0.08, -0.05, -0.18, -0.32, -0.45, -0.58],
    127: [0.41, 0.26, 0.12, -0.02, -0.15, -0.28, -0.41, -0.55],
    131: [0.34, 0.2, 0.06, -0.07, -0.2, -0.33, -0.46],
    135: [0.38, 0.24, 0.1, -0.04, -0.17, -0.31, -0.44, -0.57],
    139: [0.3, 0.16, 0.03, -0.1, -0.23, -0.36, -0.5],
    145: [0.35, 0.13, -0.09, -0.28, -0.46],
    151: [0.28, 0.05, -0.16, -0.36, -0.57],
    157: [0.39, 0.18, -0.04, -0.25, -0.44],
    163: [0.31, 0.09, -0.12, -0.33, -0.49],
    169: [0.22, 0.01, -0.2, -0.4],
    175: [0.34, 0.12, -0.09, -0.29],
    181: [0.27, 0.06, -0.15, -0.36],
    187: [0.19, -0.02, -0.23, -0.44],
    193: [0.3, 0.08, -0.13],
    199: [0.24, 0.03, -0.18, -0.39],
}

# sparse, highly cited papers
tail_cites = [2370, 5570, 14400, 21200, 6870, 3240, 8700, 8700, 5270, 2160, 2460, 3020, 5370,
              2000, 4370, 7330, 12200, 2760, 2240, 2050, 6500, 10400, 5640, 4210, 6400, 1620,
              1860, 1300, 1050, 1200, 1900, 1780, 1580, 1400, 1170, 800, 1360, 1240, 1040, 850,
              1150, 1040, 1250, 880, 690, 740, 610, 550, 480, 505, 530, 445, 480, 410, 355, 415,
              480, 630, 630, 805, 850, 920, 1000, 980, 735, 670, 735, 815, 860, 960, 1000, 920,
              640, 570, 540, 445, 390, 360, 330, 380, 415, 335, 345, 510, 570, 425, 380, 345,
              480, 410, 380, 340, 335, 340, 310, 365, 385, 595, 1090, 1070, 1250, 1250, 1200,
              1100, 305, 330,
              35700, 57000, 57000, 57000, 57000, 1880, 980, 1770, 750, 750, 720, 800, 890, 960,
              880, 940, 780, 700, 700, 650, 650, 630, 590, 510, 480, 440, 400, 350, 560, 525,
              460, 480, 530, 445, 400, 355, 400, 365, 465, 505, 530, 545, 465, 410, 450, 380,
              340, 330, 305, 370, 405, 375, 315, 470, 480, 550, 500, 385, 320]
tail_di = [0.96, 0.96, 0.935, 0.95, 0.92, 0.857, 0.86, 0.86, 0.845, 0.786, 0.797, 0.753, 0.7,
           0.7, 0.64, 0.64, 0.593, 0.596, 0.57, 0.54, 0.546, 0.53, 0.5, 0.47, 0.43, 0.606,
           0.636, 0.52, 0.464, 0.485, 0.295, 0.207, 0.075, 0.04, 0.064, 0.078, 0.21, 0.186,
           0.217, 0.217, 0.247, 0.305, 0.295, 0.254, 0.268, 0.308, 0.237, 0.21, 0.197, 0.223,
           0.315, 0.31, 0.275, 0.187, 0.14, 0.085, 0.06, 0.447, 0.447, 0.44, 0.42, 0.54, 0.607,
           0.654, 0.658, 0.6, 0.587, 0.69, 0.718, 0.723, 0.702, 0.753, 0.747, 0.757, 0.723,
           0.784, 0.777, 0.798, 0.7, 0.71, 0.63, 0.627, 0.668, 0.59, 0.546, 0.552, 0.549,
           0.583, 0.48, 0.468, 0.46, 0.444, 0.403, 0.356, 0.498, 0.942, 0.963, 0.925, 0.93,
           0.89, 0.96, 0.91, 0.853, 0.834, 0.81, 0.817,
           0.0, 0.0, 0.0, 0.0, 0.0, -0.085, -0.207, -0.264, -0.383, -0.383, -0.647, -0.675,
           -0.105, -0.044, -0.027, 0.0, 0.01, -0.085, -0.085, -0.11, -0.14, 0.0, -0.04, -0.06,
           -0.105, -0.133, -0.077, -0.1, -0.357, -0.577, -0.367, -0.265, -0.26, -0.235, -0.237,
           -0.243, -0.36, -0.4, -0.4, -0.434, -0.45, -0.48, -0.464, -0.468, -0.54, -0.508,
           -0.485, -0.515, -0.566, -0.577, -0.63, -0.64, -0.634, -0.66, -0.695, -0.35, -0.367,
           0.0, -0.023]

median_cites = 19
di_line = 1.0

cites = list(np.repeat(top_cites, top_counts)) + list(np.repeat(bottom_cites, bottom_counts))
di = [1.0] * sum(top_counts) + [-1.0] * sum(bottom_counts)
for group in (columns, core_extra):
    for c, vals in group.items():
        cites += [c] * len(vals)
        di += vals
cites += tail_cites
di += tail_di

fig, ax = plt.subplots(figsize=(10.24, 7.45), dpi=100)
fig.subplots_adjust(left=0.080, right=0.985, bottom=0.0805, top=0.952)

ax.scatter(cites, di, s=30, color='dimgray', alpha=0.2, linewidths=0, zorder=2)
ax.set_xscale('log')

ax.axvline(median_cites, color='blue', linestyle='--', alpha=0.5, linewidth=1.5, zorder=3)
ax.axhline(di_line, color='blue', linestyle='--', alpha=0.5, linewidth=1.5, zorder=3)

ax.text(median_cites / 10, 0.85, 'HIDDEN GEMS\n(Low Cite, High DI)', color='darkorange',
        fontsize=11, fontweight='bold', va='center', ha='left', zorder=1)
ax.text(median_cites * 10, 0.85, 'SUPERSTARS\n(High Cite, High DI)', color='green',
        fontsize=11, fontweight='bold', va='center', ha='left', zorder=1)
ax.text(median_cites / 10, -0.75, 'INCREMENTAL\n(Low Cite, Low DI)', color='black',
        fontsize=11, fontweight='bold', va='center', ha='left', zorder=1)
ax.text(median_cites * 10, -0.75, 'WORKHORSES\n(High Cite, Low DI)', color='red',
        fontsize=11, fontweight='bold', va='center', ha='left', zorder=1)

ax.set_title('RQ2: Disruption Index vs. Citation Impact', fontsize=13, fontweight='bold')
ax.set_xlabel('Total Citations (Log Scale)', fontsize=11)
ax.set_ylabel('Disruption Index (DI5)', fontsize=11)
ax.tick_params(labelsize=9)

fig.savefig('out.png', dpi=100)
